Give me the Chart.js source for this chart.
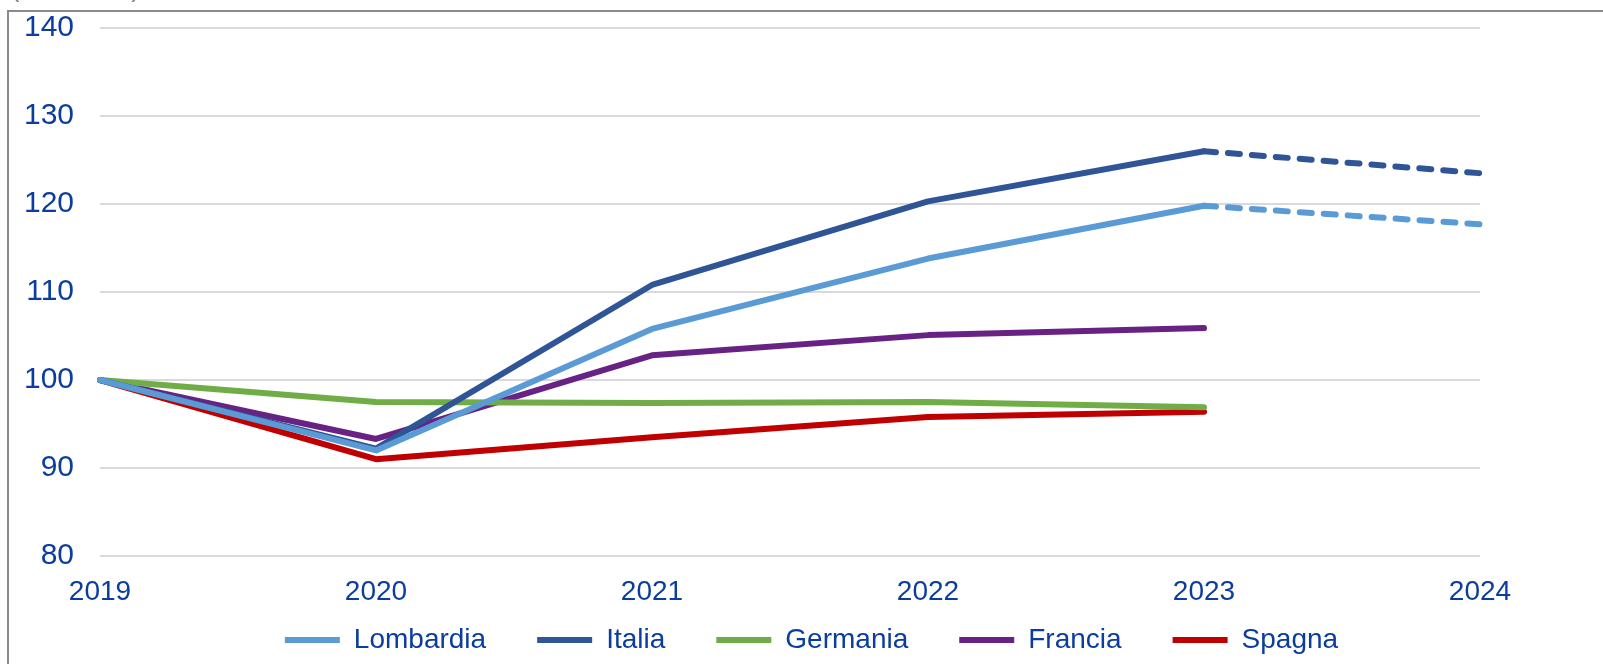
<!DOCTYPE html>
<html>
<head>
<meta charset="utf-8">
<script src="https://cdn.jsdelivr.net/npm/chart.js@4.4.0/dist/chart.umd.js"></script>
<style>
  html, body { margin: 0; padding: 0; background: #fff; overflow: hidden; }
  #frame { position: absolute; left: 7px; top: 10px; width: 1700px; height: 800px; border: 2px solid #8a8a8a; }
  #note { position: absolute; left: 11px; top: -26px; font: 25px "Liberation Sans", Arial, sans-serif; color: #7f7f7f; white-space: nowrap; }
  #wrap { position: absolute; left: 0; top: 0; width: 1603px; height: 664px; }
</style>
</head>
<body>
<div id="frame"></div>
<div id="note">(2019=100)</div>
<div id="wrap"><canvas id="chart"></canvas></div>
<script>
const years = ["2019", "2020", "2021", "2022", "2023", "2024"];
const lombardia = [100, 92.0, 105.8, 113.8, 119.8, 117.7];
const italia = [100, 92.2, 110.8, 120.3, 126.0, 123.5];
const germania = [100, 97.5, 97.4, 97.5, 96.9, null];
const francia = [100, 93.3, 102.8, 105.1, 105.9, null];
const spagna = [100, 91.0, 93.5, 95.8, 96.4, null];
const yTicks = [80, 90, 100, 110, 120, 130, 140];

const textColor = "#0b3d9e";
const fontFamily = "'Liberation Sans', Arial, sans-serif";

// tratteggio solo per l'ultimo tratto (stima 2024)
const dashLast = ctx => ctx.p0DataIndex >= 4 ? [12, 12] : undefined;

function serie(label, data, color, dashed) {
    const ds = {
        label: label,
        data: data,
        borderColor: color,
        backgroundColor: color,
        borderWidth: 6,
        borderCapStyle: "round",
        borderJoinStyle: "round",
        pointRadius: 0,
        tension: 0,
        fill: false
    };
    if (dashed) {
        ds.segment = {borderDash: dashLast};
    }
    return ds;
}

new Chart(document.getElementById("chart"), {
    type: "line",
    data: {
        labels: years,
        datasets: [
            serie("Lombardia", lombardia, "#5b9bd5", true),
            serie("Italia", italia, "#2f5597", true),
            serie("Germania", germania, "#70ad47", false),
            serie("Francia", francia, "#682283", false),
            serie("Spagna", spagna, "#c00000", false)
        ]
    },
    options: {
        responsive: true,
        maintainAspectRatio: false,
        animation: false,
        layout: {padding: {left: 20, top: 28, right: 0, bottom: 0}},
        plugins: {
            tooltip: {enabled: false},
            legend: {
                position: "bottom",
                labels: {
                    usePointStyle: true,
                    pointStyle: "line",
                    pointStyleWidth: 55,
                    padding: 51,
                    color: textColor,
                    font: {family: fontFamily, size: 28}
                }
            }
        },
        scales: {
            x: {
                offset: false,
                grid: {display: false},
                border: {display: false},
                ticks: {
                    color: textColor,
                    // mirror evita il ritaglio delle etichette dentro la fascia dell'asse
                    mirror: true,
                    padding: -53,
                    maxRotation: 0,
                    font: {family: fontFamily, size: 28}
                },
                afterFit: s => { s.height = 19; }
            },
            y: {
                min: 80,
                max: 140,
                afterBuildTicks: s => { s.ticks = yTicks.map(v => ({value: v})); },
                grid: {color: "#d9d9d9", lineWidth: 2, drawTicks: true, tickLength: 26, tickColor: "rgba(0,0,0,0)"},
                border: {display: false},
                ticks: {
                    color: textColor,
                    padding: 0,
                    font: {family: fontFamily, size: 30}
                },
                afterFit: s => { s.width = 80; }
            },
            y2: {
                position: "right",
                min: 80,
                max: 140,
                grid: {display: false},
                border: {display: false},
                ticks: {display: false},
                afterFit: s => { s.width = 123; }
            }
        }
    }
});
</script>
</body>
</html>
